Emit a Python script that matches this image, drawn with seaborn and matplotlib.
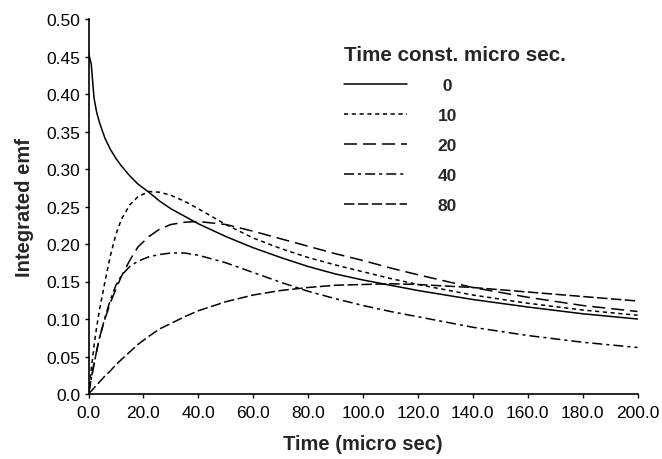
import numpy as np
import pandas as pd
import matplotlib
matplotlib.use("Agg")
import matplotlib.pyplot as plt
import seaborn as sns
from matplotlib.ticker import FixedLocator, FixedFormatter

# ---------------- data ----------------
time_us = [0, 1, 2, 3, 4, 6, 8, 10, 12, 15, 18, 22, 26, 30, 35, 40, 50, 60, 70,
           80, 90, 100, 110, 120, 140, 160, 180, 200]

emf_tc0 = [0.455, 0.440, 0.395, 0.375, 0.362, 0.341, 0.326, 0.314, 0.304, 0.291,
           0.280, 0.269, 0.257, 0.247, 0.237, 0.227, 0.210, 0.195, 0.182,
           0.170, 0.160, 0.152, 0.145, 0.138, 0.126, 0.116, 0.107, 0.100]
emf_tc10 = [0.0, 0.033, 0.064, 0.090, 0.112, 0.150, 0.185, 0.213, 0.233, 0.252,
            0.263, 0.270, 0.269, 0.265, 0.257, 0.247, 0.226, 0.208, 0.194,
            0.182, 0.172, 0.163, 0.154, 0.146, 0.132, 0.121, 0.112, 0.105]
emf_tc20 = [0.0, 0.020, 0.040, 0.058, 0.075, 0.100, 0.122, 0.140, 0.157, 0.178,
            0.196, 0.210, 0.220, 0.226, 0.229, 0.230, 0.226, 0.217, 0.207,
            0.197, 0.187, 0.178, 0.168, 0.159, 0.142, 0.129, 0.118, 0.110]
emf_tc40 = [0.0, 0.020, 0.040, 0.058, 0.075, 0.102, 0.126, 0.145, 0.158, 0.170,
            0.177, 0.183, 0.186, 0.188, 0.188, 0.185, 0.175, 0.162, 0.149,
            0.137, 0.127, 0.118, 0.110, 0.103, 0.089, 0.078, 0.069, 0.062]
emf_tc80 = [0.0, 0.004, 0.008, 0.012, 0.016, 0.024, 0.031, 0.039, 0.046, 0.056,
            0.066, 0.077, 0.087, 0.094, 0.103, 0.111, 0.123, 0.132, 0.138,
            0.142, 0.145, 0.146, 0.147, 0.146, 0.142, 0.136, 0.130, 0.124]

time_constants = ["0", "10", "20", "40", "80"]
series = [emf_tc0, emf_tc10, emf_tc20, emf_tc40, emf_tc80]

x_ticks = [0, 20, 40, 60, 80, 100, 120, 140, 160, 180, 200]
x_tick_labels = ["0.0", "20.0", "40.0", "60.0", "80.0", "100.0", "120.0",
                 "140.0", "160.0", "180.0", "200.0"]
y_ticks = [0.0, 0.05, 0.10, 0.15, 0.20, 0.25, 0.30, 0.35, 0.40, 0.45, 0.50]
y_tick_labels = ["0.0", "0.05", "0.10", "0.15", "0.20", "0.25", "0.30", "0.35",
                 "0.40", "0.45", "0.50"]

# ---------------- styling ----------------
sns.set_theme(style="ticks")
plt.rcParams["font.family"] = ["Liberation Sans", "DejaVu Sans"]
plt.rcParams["lines.scale_dashes"] = False

dash_styles = {
    "0": "",
    "10": (3.0, 2.6),
    "20": (9.4, 4.3),
    "40": (7.2, 2.9, 2.2, 2.9),
    "80": (7.5, 2.5),
}

df = pd.concat(
    [pd.DataFrame({"t": time_us, "emf": vals, "tc": tc})
     for tc, vals in zip(time_constants, series)],
    ignore_index=True,
)

fig = plt.figure(figsize=(6.62, 4.60), dpi=100)
ax = fig.add_axes([88.5 / 662, 1 - 395 / 460, (637.5 - 88.5) / 662, (395 - 20) / 460])

sns.lineplot(data=df, x="t", y="emf", style="tc", style_order=time_constants,
             dashes=dash_styles, color="black", linewidth=1.1, legend=False,
             ax=ax, sort=False, estimator=None)

ax.set_xlim(0, 200)
ax.set_ylim(0, 0.5)
ax.xaxis.set_major_locator(FixedLocator(x_ticks))
ax.xaxis.set_major_formatter(FixedFormatter(x_tick_labels))
ax.yaxis.set_major_locator(FixedLocator(y_ticks))
ax.yaxis.set_major_formatter(FixedFormatter(y_tick_labels))

for side in ["top", "right"]:
    ax.spines[side].set_visible(False)
for side in ["left", "bottom"]:
    ax.spines[side].set_linewidth(1.2)
    ax.spines[side].set_color("black")
ax.tick_params(axis="both", direction="out", length=3, width=1.0, colors="black",
               labelsize=12.5, pad=3)
ax.tick_params(axis="x", pad=5)

ax.set_xlabel("Time (micro sec)", fontsize=14.5, fontweight="bold", labelpad=10)
ax.set_ylabel("Integrated emf", fontsize=14.5, fontweight="bold", labelpad=9)

handles = ax.get_lines()[:5]
labels = [" 0", "10", "20", "40", "80"]
leg = ax.legend(handles, labels, title="Time const. micro sec.", frameon=False,
                loc="upper left", bbox_to_anchor=(344 / 662, 1 - 46 / 460),
                bbox_transform=fig.transFigure,
                prop={"weight": "bold", "size": 12.5},
                title_fontproperties={"weight": "bold", "size": 14.9},
                handlelength=3.65, handletextpad=1.75, labelspacing=0.86,
                borderaxespad=0, borderpad=0)
leg._legend_box.align = "left"
leg._legend_box.sep = 10

fig.savefig("out.png", dpi=100)
